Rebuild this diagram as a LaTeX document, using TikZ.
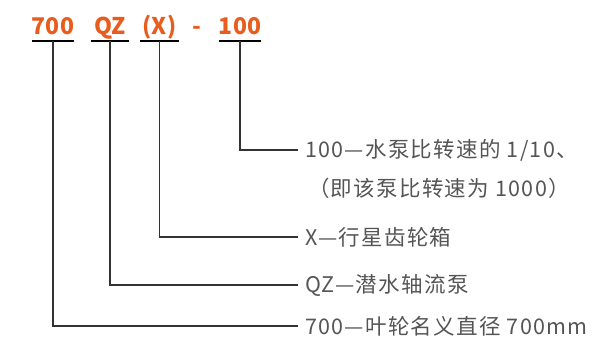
\documentclass[tikz,border=0pt]{standalone}
\usepackage{fontspec}
\newfontfamily\cjk{Noto Sans CJK SC}
\newfontfamily\cjkwide[LetterSpace=6]{Noto Sans CJK SC}
\definecolor{codeorange}{HTML}{E85D1E}
\definecolor{desctext}{HTML}{555555}
\definecolor{linegray}{HTML}{333333}
\begin{document}
\begin{tikzpicture}[x=1pt,y=-1pt,
  codelabel/.style={font=\cjk\bfseries\fontsize{23}{27}\selectfont, text=codeorange,
    anchor=south, inner xsep=0pt, inner ysep=6pt, minimum width=38pt, text depth=0pt},
  desc/.style={font=\cjkwide\fontsize{21.5}{25}\selectfont, text=desctext, anchor=west,
    inner xsep=7pt, inner ysep=0pt},
  leader/.style={draw=linegray, line width=1.3pt},
  underl/.style={draw=black, line width=1.4pt}]
\useasboundingbox (0,0) rectangle (593,344);
\node[codelabel] (l700) at (53,41) {700};
\node[codelabel] (lqz) at (110,41) {QZ};
\node[codelabel] (lx) at (159.5,41) {(X)};
\node[codelabel, minimum width=0pt] (ldash) at (197,41) {-};
\node[codelabel] (l100) at (240,41) {100};
\foreach \n in {l700,lqz,lx,l100} \draw[underl] (\n.south west) -- (\n.south east);
\node[desc] (d100) at (298,150) {100—水泵比转速的 1/10、};
\node[desc, inner xsep=0pt] (d100b) at (308,188) {（即该泵比转速为 1000）};
\node[desc] (dx) at (298,237) {X—行星齿轮箱};
\node[desc] (dqz) at (298,285) {QZ—潜水轴流泵};
\node[desc] (d700) at (298,326) {700—叶轮名义直径 700mm};
\draw[leader] (l100.south) |- (d100.west);
\draw[leader] (lx.south) |- (dx.west);
\draw[leader] (lqz.south) |- (dqz.west);
\draw[leader] (l700.south) |- (d700.west);
\end{tikzpicture}
\end{document}
